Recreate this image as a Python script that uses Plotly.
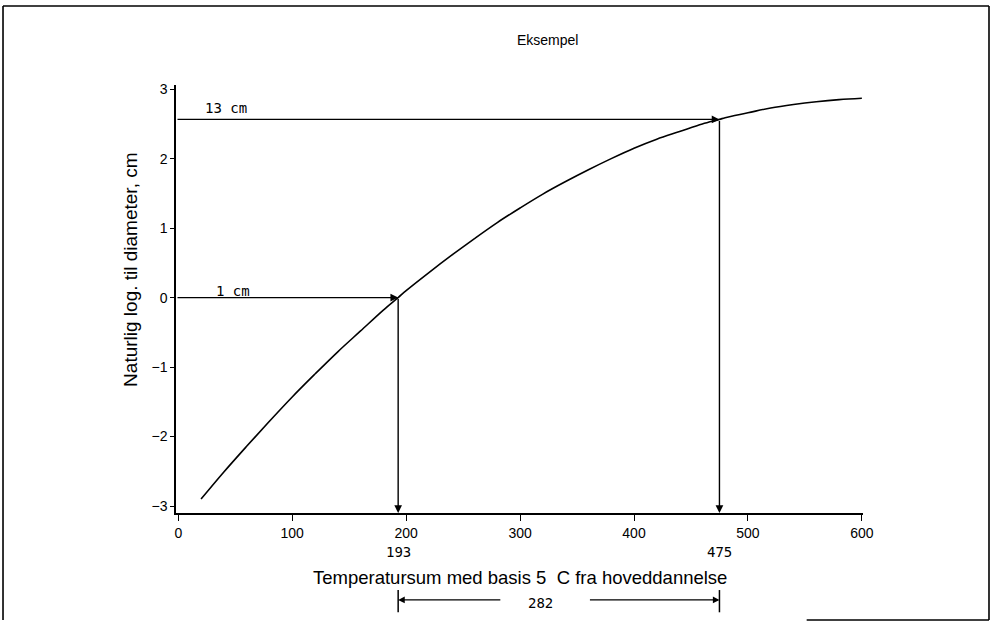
import plotly.graph_objects as go

# Curve: temperature sum vs natural log of diameter
temp_sum = [20, 40, 60, 80, 100, 120, 140, 160, 180, 193, 200, 220, 240, 260, 280, 300,
            320, 340, 360, 380, 400, 420, 440, 460, 475, 480, 500, 520, 540, 560, 580, 600]
ln_diam = [-2.90, -2.51, -2.14, -1.78, -1.43, -1.10, -0.78, -0.48, -0.18, 0.0, 0.10, 0.36,
           0.61, 0.85, 1.08, 1.29, 1.49, 1.67, 1.84, 2.00, 2.15, 2.28, 2.39, 2.50, 2.565,
           2.59, 2.66, 2.73, 2.78, 2.82, 2.85, 2.87]

# Marked points
marked_x = [193, 475]
marked_cm = ["1 cm", "13 cm"]
marked_y = [0.0, 2.565]
diff_label = "282"

x_ticks = [0, 100, 200, 300, 400, 500, 600]
y_ticks = [-3, -2, -1, 0, 1, 2, 3]

XMIN, XMAX = -2, 601
YMIN, YMAX = -3.1, 3.06

fig = go.Figure()
fig.add_trace(go.Scatter(x=temp_sum, y=ln_diam, mode="lines",
                         line=dict(color="black", width=1.6, shape="spline"),
                         showlegend=False, hoverinfo="skip"))

ann = []
shapes = []
mono = dict(family="DejaVu Sans Mono", size=14, color="black")
for xv, yv, lab in zip(marked_x, marked_y, marked_cm):
    # horizontal arrow from y axis to curve
    ann.append(dict(x=xv, y=yv, xref="x", yref="y", ax=XMIN, ay=yv, axref="x", ayref="y",
                    text="", showarrow=True, arrowhead=2, arrowsize=1.1, arrowwidth=1.4,
                    arrowcolor="black", standoff=0))
    # vertical arrow from curve down to x axis
    ann.append(dict(x=xv, y=YMIN, xref="x", yref="y", ax=xv, ay=yv, axref="x", ayref="y",
                    text="", showarrow=True, arrowhead=2, arrowsize=1.1, arrowwidth=1.4,
                    arrowcolor="black", standoff=0))
    # value label below axis
    ann.append(dict(x=xv, y=-0.091, xref="x", yref="paper", text=str(xv), showarrow=False,
                    font=mono, yanchor="middle"))
    # bottom bar
    shapes.append(dict(type="line", xref="x", yref="paper", x0=xv, x1=xv, y0=-0.18, y1=-0.232,
                       line=dict(color="black", width=1.5)))

# cm labels
ann.append(dict(x=42, y=marked_y[1], xref="x", yref="y", text=marked_cm[1], showarrow=False,
                font=mono, yshift=11, yanchor="middle"))
ann.append(dict(x=48, y=marked_y[0], xref="x", yref="y", text=marked_cm[0], showarrow=False,
                font=mono, yshift=7, yanchor="middle"))

# difference arrows
ann.append(dict(x=marked_x[0], y=-0.203, xref="x", yref="paper", ax=284, ay=0, axref="x",
                ayref="pixel", text="", showarrow=True, arrowhead=2, arrowsize=1.1,
                arrowwidth=1.2, arrowcolor="black", standoff=0))
ann.append(dict(x=marked_x[1], y=-0.203, xref="x", yref="paper", ax=360, ay=0, axref="x",
                ayref="pixel", text="", showarrow=True, arrowhead=2, arrowsize=1.1,
                arrowwidth=1.2, arrowcolor="black", standoff=0))
ann.append(dict(x=318, y=-0.211, xref="x", yref="paper", text=diff_label, showarrow=False,
                font=mono, yanchor="middle"))

# titles
sans = "Liberation Sans, Arial, sans-serif"
ann.append(dict(x=0.541, y=1.105, xref="paper", yref="paper", text="Eksempel", showarrow=False,
                yanchor="middle", font=dict(family=sans, size=14, color="black")))
ann.append(dict(x=0.5007, y=-0.15, xref="paper", yref="paper", yanchor="middle",
                text="Temperatursum med basis 5  C fra hoveddannelse", showarrow=False,
                font=dict(family=sans, size=18.5, color="black")))
ann.append(dict(x=-0.0655, y=0.568, xref="paper", yref="paper", xanchor="center",
                text="Naturlig log. til diameter, cm", showarrow=False, textangle=-90,
                font=dict(family=sans, size=19, color="black")))

# outer frame
for x0, y0, x1, y1 in [(-0.2518, 1.1846, 1.1834, 1.1846), (-0.2518, 1.1846, -0.2518, -0.25),
                       (1.1834, 1.1846, 1.1834, -0.25), (0.918, -0.25, 1.1834, -0.25)]:
    shapes.append(dict(type="line", xref="paper", yref="paper", x0=x0, y0=y0, x1=x1, y1=y1,
                       line=dict(color="black", width=1.6)))

fig.update_layout(
    width=996, height=622,
    margin=dict(l=176, r=133, t=85, b=109),
    paper_bgcolor="white", plot_bgcolor="white",
    annotations=ann, shapes=shapes,
    showlegend=False,
    font=dict(family=sans, size=14, color="black"),
)
fig.update_xaxes(range=[XMIN, XMAX], tickvals=x_ticks, showgrid=False, zeroline=False,
                 showline=True, linecolor="black", linewidth=1.5, ticks="outside",
                 ticklen=6, tickwidth=1.3, tickcolor="black",
                 tickfont=dict(family=sans, size=14, color="black"))
fig.update_yaxes(range=[YMIN, YMAX], tickvals=y_ticks, showgrid=False, zeroline=False,
                 showline=True, linecolor="black", linewidth=1.5, ticks="outside",
                 ticklen=4, tickwidth=1.3, tickcolor="black",
                 tickfont=dict(family=sans, size=14, color="black"))

fig.write_html("out.html")
